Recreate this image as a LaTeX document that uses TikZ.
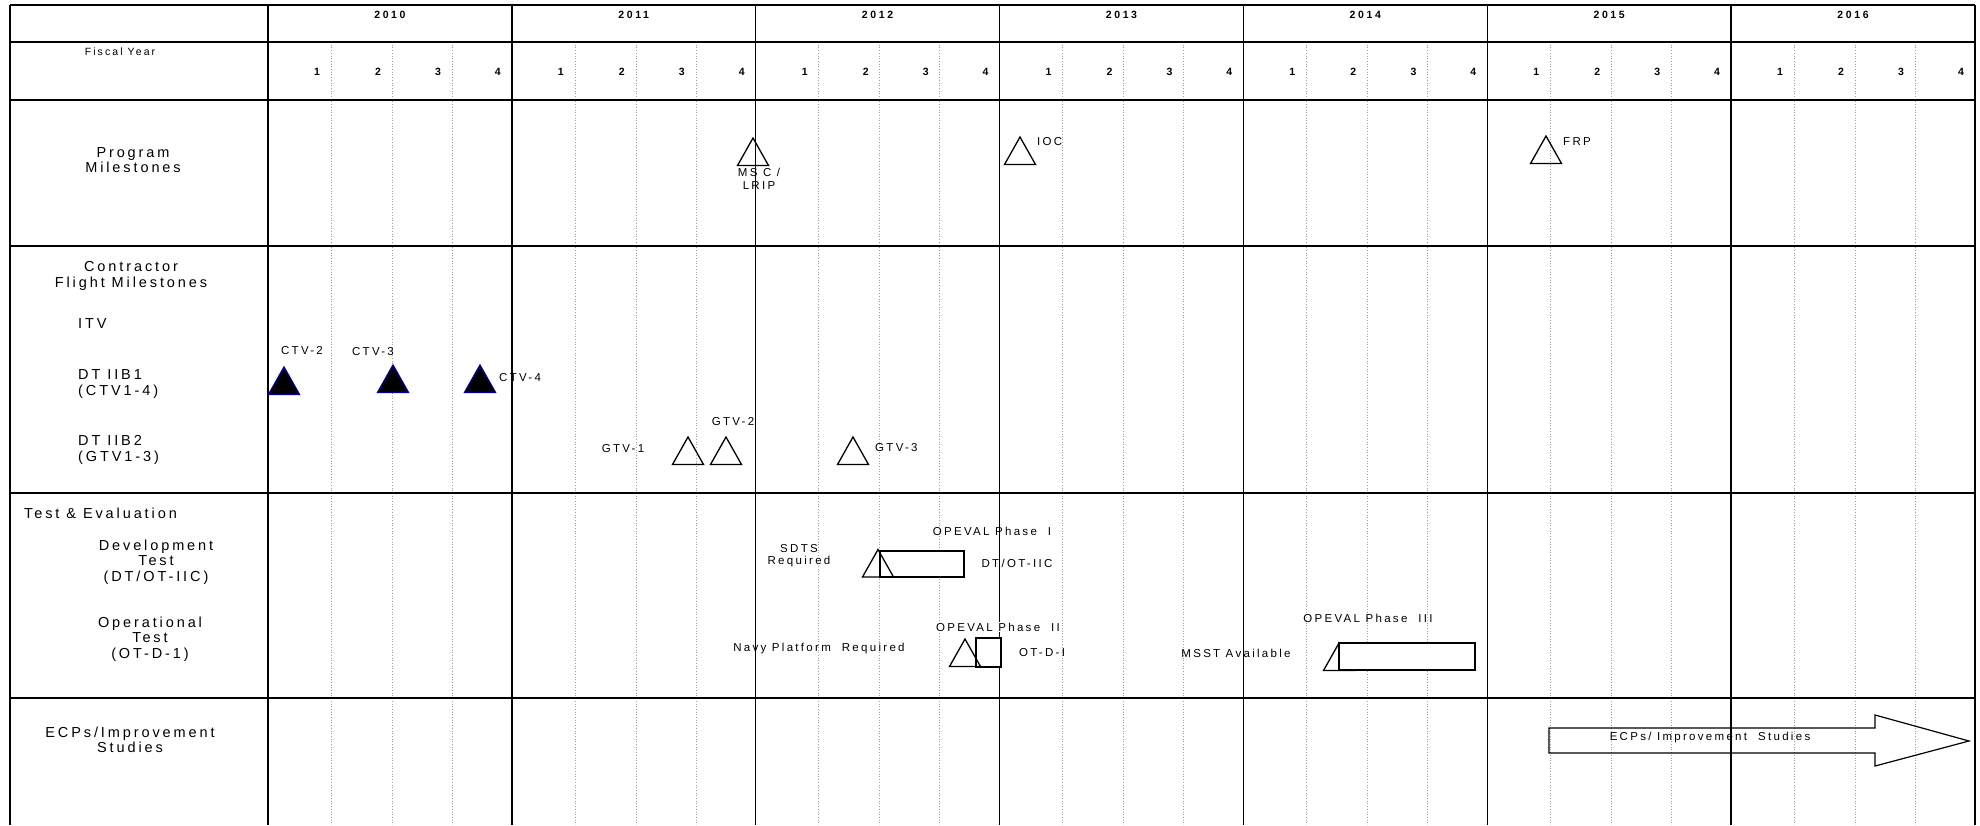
\documentclass[tikz,border=0pt]{standalone}
\usepackage{fontspec}
\setmainfont{Liberation Sans}
\newfontfamily\lblfont[LetterSpace=20]{Liberation Sans}
\newfontfamily\annfont[LetterSpace=20]{Liberation Sans}
\newfontfamily\hdrfont[LetterSpace=25]{Liberation Sans}
\newfontfamily\fyfont[LetterSpace=20]{Liberation Sans}
\newcommand\mytri[3][]{\draw[tristyle,#1] (#2,#3) -- ++(-15.5,27.5) -- ++(31,0) -- cycle;}
\begin{document}
\begin{tikzpicture}[x=1pt,y=-1pt,
  solidline/.style={line width=1.5pt,black},
  qline/.style={line width=0.7pt,gray!75,dotted},
  tristyle/.style={line width=1.3pt,black,line join=miter},
  filltri/.style={fill=black,draw=blue!60!black},
  boxst/.style={line width=1.3pt,black,fill=white},
  lbl/.style={font=\lblfont\fontsize{14.5}{15.5}\selectfont,inner sep=0pt,align=center},
  ann/.style={font=\annfont\fontsize{11.5}{12.5}\selectfont,inner sep=0pt,align=center},
  hdr/.style={font=\hdrfont\bfseries\fontsize{10.5}{12}\selectfont,inner sep=0pt},
  fyl/.style={font=\fyfont\fontsize{10.5}{12}\selectfont,inner sep=0pt}]
\useasboundingbox (0,0) rectangle (1980,825);
% quarter grid
\foreach \i/\yr in {0/2010,1/2011,2/2012,3/2013,4/2014,5/2015,6/2016}{
  \pgfmathsetmacro\xs{268+243.85*\i}
  \foreach \off in {63,124,184}{\draw[qline] (\xs+\off,42) -- (\xs+\off,825);}
}
% horizontal rules
\foreach \yy in {5,42,100,246,493,698}{\draw[solidline] (10,\yy) -- (1975,\yy);}
% vertical rules
\draw[solidline] (10,5) -- (10,825);
\draw[solidline] (1975,5) -- (1975,825);
\foreach \i in {0,...,6}{\draw[solidline] (268+243.85*\i,5) -- (268+243.85*\i,825);}
% headers
\node[fyl] (fy) at (120,52) {Fiscal Year};
\foreach \i/\yr in {0/2010,1/2011,2/2012,3/2013,4/2014,5/2015,6/2016}{
  \pgfmathsetmacro\xs{268+243.85*\i}
  \node[hdr] (y\yr) at (\xs+121.9,15) {\yr};
  \foreach \q/\off in {1/63,2/124,3/184,4/243.85}{\node[hdr] (q\yr-\q) at (\xs+\off-14,72) {\q};}
}
% row labels
\node[lbl] (pm) at (133,160) {Program\\Milestones};
\node[lbl] (cfm) at (131,276) {Contractor\\Flight Milestones};
\node[lbl,anchor=west] (itv) at (78,324) {ITV};
\node[lbl,align=left,anchor=west] (dt1) at (78,384) {DT IIB1\\(CTV1-4)};
\node[lbl,align=left,anchor=west] (dt2) at (78,450) {DT IIB2\\(GTV1-3)};
\node[lbl,anchor=west] (te) at (24,513) {Test \& Evaluation};
\node[lbl] (dev) at (156,562) {Development\\Test\\(DT/OT-IIC)};
\node[lbl] (op) at (150,639) {Operational\\Test\\(OT-D-1)};
\node[lbl] (ecp) at (130,740) {ECPs/Improvement\\Studies};
% program milestones
\mytri{753}{138}
\mytri{1020}{137}
\mytri{1546}{136}
\node[ann] (msc) at (759,179) {MS C /\\LRIP};
\node[ann,anchor=west] (ioc) at (1037,142) {IOC};
\node[ann,anchor=west] (frp) at (1563,142) {FRP};
% contractor flight milestones
\mytri[filltri]{284}{367}
\mytri[filltri]{393}{365}
\mytri[filltri]{480}{365}
\node[ann] (ctv2) at (302,351) {CTV-2};
\node[ann] (ctv3) at (373,352) {CTV-3};
\node[ann,anchor=west] (ctv4) at (499,378) {CTV-4};
\mytri{688}{437}
\mytri{726}{437}
\mytri{853}{437}
\node[ann] (gtv1) at (623,449) {GTV-1};
\node[ann] (gtv2) at (733,422) {GTV-2};
\node[ann,anchor=west] (gtv3) at (875,448) {GTV-3};
% test & evaluation
\draw[boxst] (880,551) rectangle (964,577);
\mytri{878}{549.5}
\node[ann] (sdts) at (799,555.5) {SDTS\\Required};
\node[ann] (ope1) at (992,531) {OPEVAL\ Phase\ \ I};
\node[ann] (dtot) at (1017,563) {DT/OT-IIC};
\draw[boxst] (976,638) rectangle (1001,667);
\mytri{965}{639}
\node[ann,fill=white,inner sep=1pt] (ope2) at (998,627) {OPEVAL\ Phase\ \ II};
\node[ann] (navy) at (819,649) {Navy Platform\ \ Required};
\node[ann] (otd) at (1042,653) {OT-D-I};
\mytri{1339}{643}
\draw[boxst] (1339,643) rectangle (1475,670);
\node[ann] (ope3) at (1368,618) {OPEVAL\ Phase\ \ III};
\node[ann] (msst) at (1236,653) {MSST Available};
% ECP arrow
\draw[line width=1.2pt,line join=miter] (1549,728) -- (1875,728) -- (1875,715) -- (1969,741) -- (1875,766) -- (1875,753) -- (1549,753) -- cycle;
\node[ann] (ecpa) at (1710,738) {ECPs/ Improvement\ \ Studies};
\end{tikzpicture}
\end{document}
